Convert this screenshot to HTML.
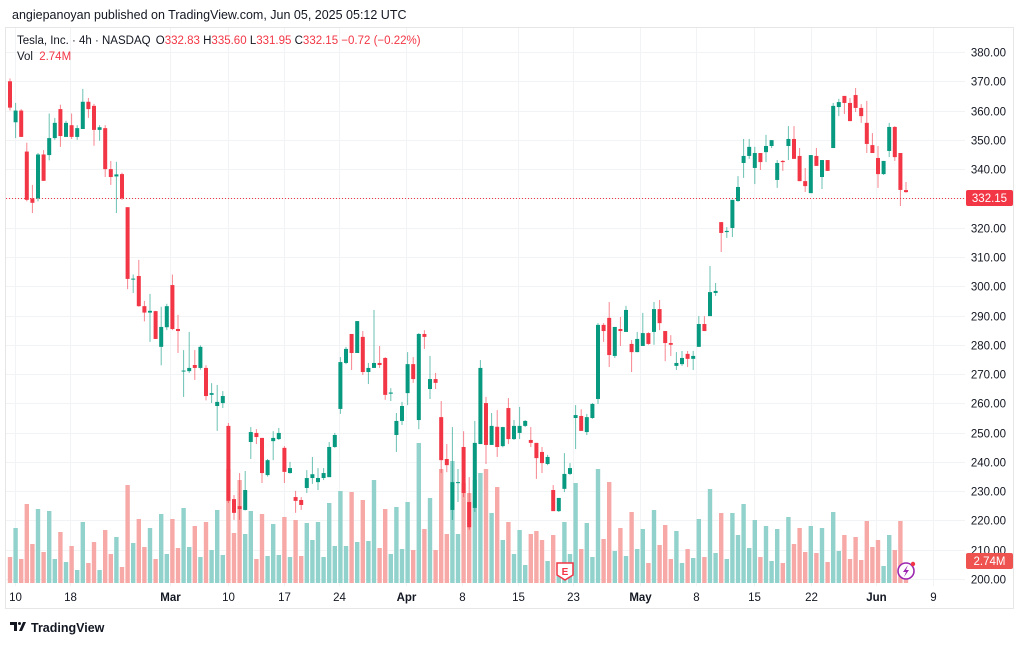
<!DOCTYPE html>
<html><head><meta charset="utf-8"><style>
body{margin:0;background:#fff;width:1024px;height:642px;overflow:hidden;font-family:"Liberation Sans",sans-serif}
svg text{font-family:"Liberation Sans",sans-serif}
</style></head><body>
<svg id="c" width="1024" height="642" viewBox="0 0 1024 642">
<text x="12" y="19" font-size="12.5" fill="#131722">angiepanoyan published on TradingView.com, Jun 05, 2025 05:12 UTC</text>
<rect x="5.5" y="27.5" width="1008" height="581" fill="#fff" stroke="#e6e6e6"/>
<g id="grid"></g>
<g id="vol"></g>
<line x1="6" x2="965" y1="198.5" y2="198.5" stroke="#f23645" stroke-width="1" stroke-dasharray="1,2"/>
<g id="cand"></g>
<g id="yax"></g>
<g id="xax"></g>
<g>
<text x="17" y="44" font-size="11.5" fill="#131722">Tesla, Inc. · 4h · NASDAQ <tspan dx="2">O</tspan><tspan fill="#f23645">332.83</tspan> <tspan>H</tspan><tspan fill="#f23645">335.60</tspan> <tspan>L</tspan><tspan fill="#f23645">331.95</tspan> <tspan>C</tspan><tspan fill="#f23645">332.15 −0.72 (−0.22%)</tspan></text>
<text x="17" y="60" font-size="11.5" fill="#131722">Vol <tspan fill="#f23645" dx="3">2.74M</tspan></text>
</g>
<rect x="966" y="190" width="47" height="16" rx="2" fill="#f23645"/>
<text x="989.5" y="202" font-size="11.5" fill="#fff" text-anchor="middle">332.15</text>
<rect x="966" y="553" width="47" height="16" rx="2" fill="#ef5350"/>
<text x="989.5" y="565" font-size="11.5" fill="#fff" text-anchor="middle">2.74M</text>
<g>
<path d="M557 563 h16 v12 l-8 5 l-8 -5 z" fill="#fff" stroke="#f23645" stroke-width="1.5"/>
<text x="565" y="575" font-size="10" font-weight="bold" fill="#f23645" text-anchor="middle">E</text>
</g>
<g>
<circle cx="906" cy="571" r="8" fill="#fff" stroke="#9c27b0" stroke-width="1.6"/>
<path d="M908 565 l-5 7 h3 l-2 5 l5 -7 h-3 z" fill="#9c27b0"/>
<circle cx="913" cy="564" r="2.2" fill="#f23645"/>
</g>
<g>
<path d="M10 622 h7 v9 h-3 v-6 h-4 z M19 631 l4 -9 h3 l-4 9 z" fill="#131722"/>
<circle cx="19.5" cy="623.5" r="1.5" fill="#131722"/>
<text x="31" y="632" font-size="12.5" font-weight="bold" fill="#131722">TradingView</text>
</g>
</svg>
<script>
const opens=[370,356,360,346,330,330,345,344.8,350.6,360.5,351,355,351,353.7,363,361.6,353.4,354,340,337.5,338.3,327,302.4,303.5,293.2,291,291.5,279.3,286,300.4,285.4,271,271,273.1,272.1,272.1,262.9,259.1,260.1,252.3,227.3,224.9,223.6,246.8,249.9,248.2,235.5,247.1,247.8,244.8,236.2,228,227,231.1,234.5,233.1,234.5,234.8,245.1,258.1,273.8,283.7,277.2,282.7,270.7,272.1,273.8,275.5,263.3,249.2,254,263.5,273.4,254.3,283.7,264.9,268.3,255.3,241,223.6,232.8,245.1,226.3,224.3,246.1,260.1,245.8,252,245.4,258.4,247.8,249.9,252.3,247.5,246.5,243.4,239.3,230.4,223.2,230.8,235.9,255,255.7,250.2,255,261.5,286.8,289.2,276.2,285.4,284.4,280.3,277.5,279.6,284,284.4,292.2,284.7,280.6,272.8,273.4,276.9,275.2,279.3,287.1,289.8,297.7,321.9,318.5,319.9,329.1,342.1,344.5,340.4,345.5,345.8,347.9,336.3,342.8,347.9,350.3,344.5,335.9,331.8,344.5,337.3,343.1,347.2,361.2,365,362.6,365.3,360.9,355.8,348.2,343.8,338.3,346.2,354.4,345.5,332.83];
const highs=[371,362.6,360.5,349,334.6,345.5,346.5,359,357.5,362,356.5,359,355,367.4,364.3,362.3,355,355,342.8,342.5,338.8,327,304,309,295,297.4,291.6,293,294,304,290.2,278.2,284.4,278.2,279.8,273,266.9,266.3,264.2,253.3,228.7,236.2,236.9,251.9,251.2,248.2,241,250.5,251.6,245.4,240,230.1,228,237.2,241.7,237.9,237.9,246.8,249.9,275.8,279.3,283.7,288.1,284.7,273.8,291.9,279.6,275.8,265.2,256.7,260.5,277.5,275.8,284,285,276.2,270.4,260.8,246.1,251.9,237.6,250.5,234.8,254,274.8,262.2,256.7,257.7,252,261.8,254.3,258.8,254.3,251.9,246.5,245.1,242.4,232.1,227.7,243,239.6,259.4,258,256.4,260.1,287.4,287.4,294.6,286.1,289.5,293.3,281.6,284.4,290.9,284.3,294.6,295.3,284.7,283.3,277.5,277.9,277.9,277.9,289.8,289.8,306.9,301.1,321.9,320.2,329.5,337.6,350.3,350.3,347.6,345.5,351.7,349.9,343.1,343.1,354.7,354.7,347.2,340.4,344.8,347.2,343.1,343.1,362.6,364,365,364.3,367.7,362.2,363.3,352.3,347.9,342.8,355.8,354.7,345.5,335.6];
const lows=[360,350.6,351,329,325,329,336,343,350,347.6,351,350.3,350,353.7,357.5,348,349.7,337.3,334.6,325,329.5,299,297.7,293,288,281,282,273,285,285,277.2,262.2,270.4,268,271.5,261,260.1,250.6,258.4,226,220.2,220.2,223.4,241,246.1,232.8,235,240.6,247.5,232.8,236,222.6,223.6,229.4,232.5,230.4,233.8,234.8,244.8,256.4,273.4,271.4,277.2,269.7,266.6,272.1,272.1,261.2,260.8,243.4,252.6,259.4,267,251.2,278.6,261.5,264.9,236.2,236.5,220.2,226.3,228,216.8,222.9,246.1,239.3,245.8,241.7,245,246.1,247.5,247.8,251.9,245.1,234.2,236.2,238.9,223.2,222.9,229.7,235.5,244.4,250.6,249.2,254.7,259.8,281,272.4,275.5,279.6,284.4,270.7,277.5,279.6,280,280,285,274.4,276.2,271.4,272.8,272.4,271.4,279.3,284.7,289.8,296.7,311.7,316.5,316.8,328.8,337,343.5,334.9,339.7,342.4,347.2,333.6,339.4,343.1,343.5,335.9,332.2,331.8,341.1,333.2,339.4,347.2,358.1,358.8,356.4,359.5,355.8,345.5,345.5,333.6,338,344.1,342.8,327.4,331.95];
const closes=[361,360,351,329.5,328.5,345,336,350.6,355.8,351.3,355.8,351,354,363,360.5,353.4,354.3,340,337.3,338.2,330,302.5,302.6,293.2,291,291.6,282,286.1,293.2,285.4,284.7,271.2,272.1,272.1,279.3,262.5,263.5,260.5,262.5,226.7,222.6,223.9,230.4,250.2,248.5,236.2,240.6,248.2,249.9,236.6,237.9,226.7,225.3,234.5,235.8,234.5,236.2,245.1,249.2,274.1,278.6,277.2,288.1,270.7,272.1,273.8,273.1,262.9,263.7,254,259.1,273.4,268.3,283.7,282.7,268.3,267,240.6,238.9,233.1,233.1,229.4,217.7,246.5,272.1,245.8,252.3,245.1,251.9,247.8,252.3,252.3,254,246.5,241.3,239.6,241.7,223.2,227.7,235.9,237.9,256,250.6,255.3,259.8,286.8,284.7,276.5,286.1,284.7,291.9,277.5,282,284,280.3,292.2,287.4,280.6,280,273.8,275.5,275.2,276.2,287.1,284.7,298,298.4,318.2,318.9,329.5,333.9,344.5,347.6,345.5,342.4,347.9,349.9,342.1,342.4,350.3,343.5,335.9,334.2,344.8,341.1,343.1,339.4,361.6,362.9,362.6,356.4,360.9,358.1,348.6,345.5,338.3,342.8,354.4,344.1,332.9,332.15];
const volumes=[26,55,24,79,39,74,31,72,24,51,21,37,13,61,20,41,13,53,29,46,16,98,40,64,36,55,24,69,29,64,35,75,36,57,26,61,33,73,28,114,50,103,49,72,24,69,27,59,28,66,26,63,27,60,43,61,26,80,37,92,37,91,41,83,42,103,35,74,29,76,34,81,33,140,54,85,33,114,49,122,49,100,90,103,110,114,70,96,43,61,29,53,18,49,52,43,22,48,12,61,29,100,34,60,26,114,44,101,32,55,27,71,34,54,20,73,38,58,24,52,20,34,25,64,26,94,30,70,24,70,48,79,35,63,26,57,22,54,20,66,39,55,31,57,30,55,21,71,32,48,24,46,23,62,36,43,17,48,33,62,4];
const priceTicks=[380,370,360,350,340,330,320,310,300,290,280,270,260,250,240,230,220,210,200];
const dateLabels=["10","18","Mar","10","17","24","Apr","8","15","23","May","8","15","22","Jun","9"];
const dateIdx=[0.9,10.7,28.6,38.9,48.9,58.8,70.7,80.7,90.7,100.5,112.5,122.5,132.9,143,154.6,164.8];
const boldLabels=["Mar","Apr","May","Jun"];

const NS="http://www.w3.org/2000/svg";
const xS=i=>10+5.6*i;
const yS=p=>52+(380-p)*2.928;
const vS=v=>583-v;
function mk(tag,attrs,parent){const e=document.createElementNS(NS,tag);for(const k in attrs)e.setAttribute(k,attrs[k]);parent.appendChild(e);return e;}
const grid=document.getElementById('grid'),vol=document.getElementById('vol'),cand=document.getElementById('cand'),yax=document.getElementById('yax'),xax=document.getElementById('xax');
priceTicks.forEach(p=>{
  const y=Math.round(yS(p))+0.5;
  const g=mk('line',{x1:6,x2:965,y1:y,y2:y,stroke:'#f2f3f5','stroke-width':1},grid);
  
  
  const t=mk('text',{x:1006,y:y+4,'font-size':11.5,fill:'#131722','text-anchor':'end'},yax);
  t.textContent=p.toFixed(2);
  
  
});
dateLabels.forEach((l,k)=>{
  const x=Math.round(xS(dateIdx[k]))+0.5;
  const g=mk('line',{x1:x,x2:x,y1:28,y2:586,stroke:'#f2f3f5','stroke-width':1},grid);
  
  
  const t=mk('text',{x:x,y:601,'font-size':11.5,fill:'#131722','text-anchor':'middle','font-weight':boldLabels.includes(l)?'bold':'normal'},xax);
  t.textContent=l;
  
  
});
closes.forEach((c,i)=>{
  const o=opens[i],up=c>=o,x=xS(i);
  const v=mk('rect',{x:x-2.2,y:vS(volumes[i]),width:4.4,height:volumes[i],fill:up?'#92d2cc':'#f7a9a7'},vol);
  
  
  const col=up?'#089981':'#f23645';
  const w=mk('line',{x1:x,x2:x,y1:yS(highs[i]),y2:yS(lows[i]),stroke:col,'stroke-width':1,'stroke-opacity':0.6},cand);
  
  
  const top=yS(Math.max(o,c)),h=Math.max(1,Math.abs(yS(o)-yS(c)));
  const b=mk('rect',{x:x-2,y:top,width:4,height:h,fill:col},cand);
  
  
});
</script>
</body></html>
